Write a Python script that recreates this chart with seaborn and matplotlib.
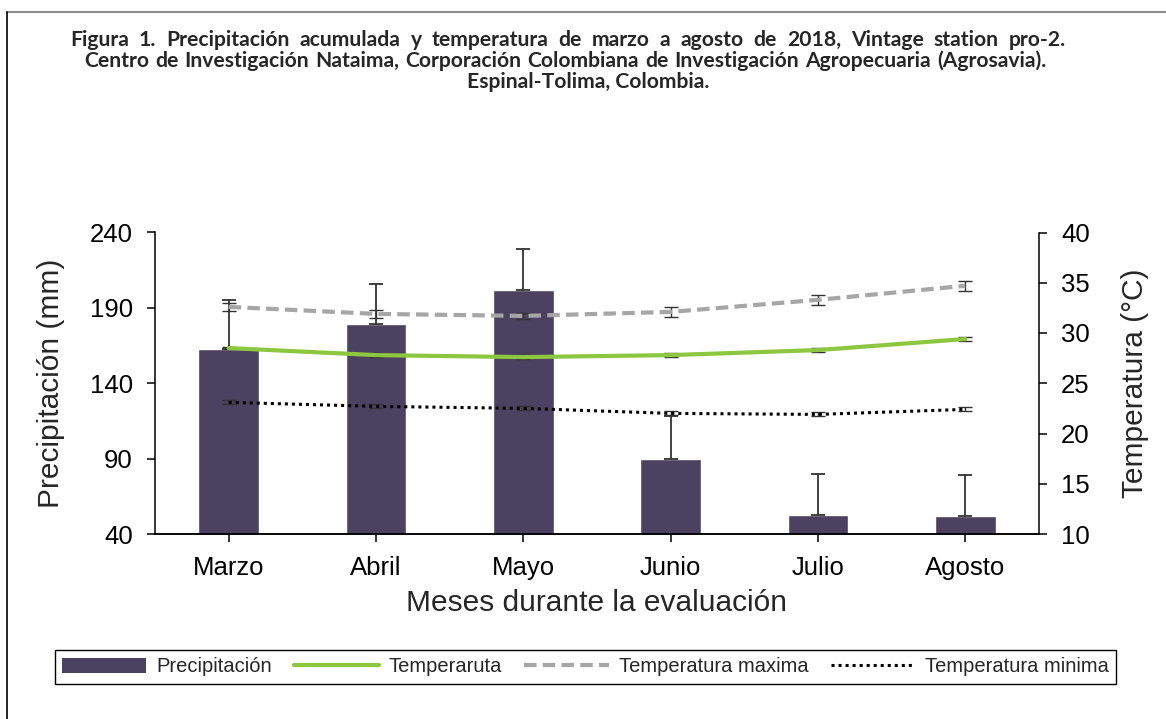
import numpy as np
import pandas as pd
import seaborn as sns
import matplotlib.pyplot as plt
from matplotlib.lines import Line2D
from matplotlib.patches import Patch

# datos
months = ['Marzo', 'Abril', 'Mayo', 'Junio', 'Julio', 'Agosto']
precip = [163, 179, 202, 90, 52.5, 52]
precip_err = [32, 27, 27, 28, 27, 27]
t_mean = [28.5, 27.8, 27.6, 27.8, 28.3, 29.4]
t_mean_err = [0.1, 0.2, 0.2, 0.2, 0.2, 0.2]
t_max = [32.6, 31.9, 31.7, 32.1, 33.3, 34.7]
t_max_err = [0.4, 0.4, 0.3, 0.5, 0.5, 0.5]
t_min = [23.1, 22.7, 22.5, 22.0, 21.9, 22.4]
t_min_err = [0.2, 0.2, 0.2, 0.2, 0.2, 0.2]

legend_labels = ['Precipitación', 'Temperaruta', 'Temperatura maxima',
                 'Temperatura minima']
title_lines = [
    'Figura 1. Precipitación acumulada y temperatura de marzo a agosto de 2018, Vintage station pro-2.',
    'Centro de Investigación Nataima, Corporación Colombiana de Investigación Agropecuaria (Agrosavia).',
    'Espinal-Tolima, Colombia.',
]

bar_color = '#4b4160'
green = '#8dc63f'
gray = '#a6a6a6'
err_color = '#333333'

sns.set_style('ticks')
plt.rcParams['font.family'] = ['Liberation Sans', 'DejaVu Sans']

W, H = 1166, 719
fig = plt.figure(figsize=(W / 100, H / 100), dpi=100)
ax = fig.add_axes([155 / W, 1 - 534 / H, 884 / W, 301.5 / H])

# barras de precipitacion
df = pd.DataFrame({'mes': months, 'precipitacion': precip})
sns.barplot(data=df, x='mes', y='precipitacion', order=months, color=bar_color,
            saturation=1, width=0.41, errorbar=None, ax=ax)
x = np.arange(len(months))
ax.errorbar(x, precip, yerr=[np.zeros(len(months)), precip_err], fmt='none',
            ecolor=err_color, elinewidth=1.3, capsize=5, capthick=1.3)
ax.set_ylim(40, 240)
ax.set_yticks(np.arange(40, 241, 50))
ax.set_xlim(-0.5, len(months) - 0.5)

# temperaturas
ax2 = ax.twinx()
ax2.errorbar(x, t_max, yerr=t_max_err, color=gray, lw=3, ls=(0, (3, 1.5)),
             ecolor=err_color, elinewidth=1, capsize=5, capthick=1)
ax2.errorbar(x, t_mean, yerr=t_mean_err, color=green, lw=3,
             ecolor=err_color, elinewidth=1, capsize=5, capthick=1)
ax2.errorbar(x, t_min, yerr=t_min_err, color='black', lw=2.2, ls=(0, (1, 1.3)),
             ecolor=err_color, elinewidth=1, capsize=5, capthick=1)
ax2.set_ylim(10, 40)
ax2.set_yticks(np.arange(10, 41, 5))

# estilo
for a in (ax, ax2):
    a.spines['top'].set_visible(False)
    for s in a.spines.values():
        s.set_linewidth(1.1)
        s.set_color('black')
    a.tick_params(direction='out', length=6, width=1.1, labelsize=18.5, pad=10,
                  colors='black')
ax.spines['right'].set_visible(False)
ax2.spines['left'].set_visible(False)
ax.set_xlabel('Meses durante la evaluación', fontsize=21.5, labelpad=6)
ax.set_ylabel('Precipitación (mm)', fontsize=21.5, labelpad=18)
ax2.set_ylabel('Temperatura (°C)', fontsize=21.5, labelpad=22)

# leyenda
handles = [Patch(facecolor=bar_color, edgecolor='none'),
           Line2D([], [], color=green, lw=3),
           Line2D([], [], color=gray, lw=3, ls=(0, (3, 1.5))),
           Line2D([], [], color='black', lw=2.2, ls=(0, (1, 1.3)))]
leg = fig.legend(handles, legend_labels, loc='center',
                 bbox_to_anchor=(585.5 / W, 1 - 667 / H), ncol=4, fontsize=14.5,
                 frameon=True, fancybox=False, edgecolor='black', framealpha=1,
                 handlelength=4.2, handletextpad=0.5, columnspacing=1.1,
                 borderpad=0.35)
leg.get_frame().set_linewidth(1.0)

# marco
fig.add_artist(Line2D([7 / W, 1], [1 - 12 / H, 1 - 12 / H], color='#8c8c8c',
                      lw=1.5, transform=fig.transFigure))
fig.add_artist(Line2D([7 / W, 7 / W], [0, 1 - 12 / H], color='black',
                      lw=1.2, transform=fig.transFigure))

# titulo justificado
renderer = fig.canvas.get_renderer()
title_font = dict(family=['Lato', 'DejaVu Sans'], weight='bold')
probe_words = [fig.text(0, 0, w, fontsize=10, **title_font)
               for w in title_lines[1].split()]
words_width = sum(t.get_window_extent(renderer).width for t in probe_words)
for t in probe_words:
    t.remove()
size = 10 * 912 / words_width


def justified_line(text, y_px, x0, x1):
    words = text.split()
    items = [fig.text(0, 1 - y_px / H, w, fontsize=size, va='baseline',
                      **title_font) for w in words]
    widths = [t.get_window_extent(renderer).width for t in items]
    gap = (x1 - x0 - sum(widths)) / (len(words) - 1)
    pos = x0
    for t, w in zip(items, widths):
        t.set_x(pos / W)
        pos += w + gap


justified_line(title_lines[0], 46, 70, 1066)
justified_line(title_lines[1], 67, 84, 1046)
fig.text(588 / W, 1 - 88 / H, title_lines[2], fontsize=size, ha='center',
         va='baseline', **title_font)

fig.savefig('out.png', dpi=100)
